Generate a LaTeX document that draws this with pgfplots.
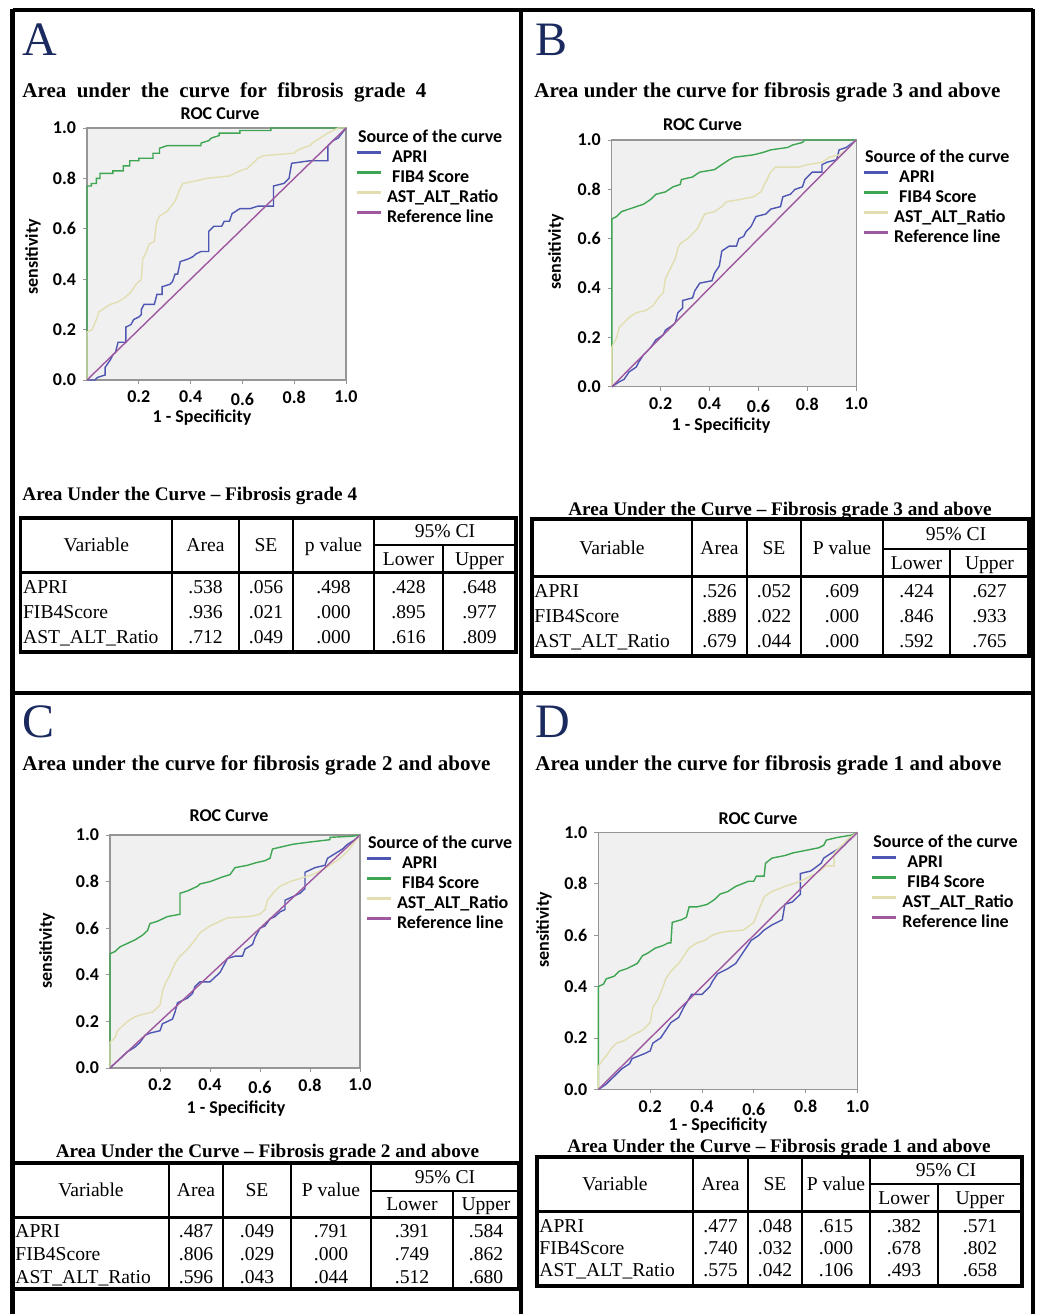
\documentclass[border=0pt]{standalone}
\usepackage{fontspec}
\setmainfont{Liberation Serif}
\newfontfamily\plotfont{Carlito}
\usepackage{pgfplots}
\pgfplotsset{compat=1.18}
\definecolor{apri}{RGB}{78,86,180}
\definecolor{fib}{RGB}{62,166,82}
\definecolor{ast}{RGB}{226,222,176}
\definecolor{refl}{RGB}{158,88,160}
\definecolor{plotbg}{RGB}{240,240,240}
\definecolor{axgray}{RGB}{150,150,150}
\definecolor{navy}{RGB}{27,42,94}
\newcommand\plotB{\plotfont\bfseries\fontsize{9}{10.5}\selectfont}
\newcommand\tabF{\fontsize{9.8}{11}\selectfont}
\newcommand\titF{\bfseries\fontsize{10.5}{12}\selectfont}
\newcommand\ttitF{\bfseries\fontsize{9.6}{11}\selectfont}
\pgfplotsset{rocax/.style={
 scale only axis, anchor=south west, xmin=0,xmax=1,ymin=0,ymax=1,
 axis background/.style={fill=plotbg},
 axis line style={draw=axgray,line width=0.6pt},
 xtick={0.2,0.4,0.6,0.8,1.0}, xticklabels={0.2,0.4,\raisebox{-1.2pt}[\height][0pt]{0.6},0.8,1.0},
 ytick={0,0.2,0.4,0.6,0.8,1}, yticklabels={0.0,0.2,0.4,0.6,0.8,1.0},
 tick align=outside, tick pos=left, major tick length=2pt,
 tick style={draw=axgray,line width=0.5pt},
 tick label style={font=\plotB},
 clip=false,
 every axis plot/.append style={line width=0.7pt},
 legend cell align=left,
 legend style={draw=none, fill=none, inner sep=0pt, outer sep=0pt, font=\plotB,
   nodes={inner sep=0pt, text height=6.5pt, text depth=2pt},
   row sep=1.5pt,
   /tikz/every odd column/.append style={column sep=2.5pt}},
 legend image code/.code={\draw[##1,line width=1.5pt] (0pt,2.5pt) -- (12pt,2.5pt);},
}}
% table macro: uses \tL \tR \tT \tB \tH \tS \cA \cB \cC \cD \cE \rA \rd
\newcommand\AUCtable[2]{%
 \draw[line width=1.6pt] (\tL,\tT) rectangle (\tR,\tB);
 \draw[line width=1.8pt] (\tL,\tH) -- (\tR,\tH);
 \draw[line width=1.4pt] (\cA,\tT) -- (\cA,\tB);
 \draw[line width=0.6pt] (\cB,\tT) -- (\cB,\tB) (\cC,\tT) -- (\cC,\tB) (\cD,\tT) -- (\cD,\tB) (\cE,\tS) -- (\cE,\tB) (\cD,\tS) -- (\tR,\tS);
 \pgfmathsetmacro\hy{(\tT+\tH)/2+6.3}
 \pgfmathsetmacro\hya{(\tT+\tS)/2+6.3}
 \pgfmathsetmacro\hyb{(\tS+\tH)/2+6.3}
 \node[anchor=base,font=\tabF] at ({(\tL+\cA)/2},\hy) {Variable};
 \node[anchor=base,font=\tabF] at ({(\cA+\cB)/2},\hy) {Area};
 \node[anchor=base,font=\tabF] at ({(\cB+\cC)/2},\hy) {SE};
 \node[anchor=base,font=\tabF] at ({(\cC+\cD)/2},\hy) {#1};
 \node[anchor=base,font=\tabF] at ({(\cD+\tR)/2},\hya) {95\% CI};
 \node[anchor=base,font=\tabF] at ({(\cD+\cE)/2},\hyb) {Lower};
 \node[anchor=base,font=\tabF] at ({(\cE+\tR)/2},\hyb) {Upper};
 \foreach \n/\a/\s/\p/\l/\u [count=\i from 0] in {#2} {
   \pgfmathsetmacro\yy{\rA+\i*\rd}
   \node[anchor=base west,inner sep=0pt,font=\tabF] at (\tL+2,\yy) {\n};
   \node[anchor=base,font=\tabF] at ({(\cA+\cB)/2},\yy) {\a};
   \node[anchor=base,font=\tabF] at ({(\cB+\cC)/2},\yy) {\s};
   \node[anchor=base,font=\tabF] at ({(\cC+\cD)/2},\yy) {\p};
   \node[anchor=base,font=\tabF] at ({(\cD+\cE)/2},\yy) {\l};
   \node[anchor=base,font=\tabF] at ({(\cE+\tR)/2},\yy) {\u};
 }}
\begin{document}
\begin{tikzpicture}
\path[use as bounding box] (0,0) rectangle (520pt,-657pt);
% ================= A =================
\begin{axis}[rocax, at={(43.5pt,-190pt)}, width=129.5pt, height=126pt,
  legend style={at={(rel axis cs:1,1)}, anchor=north west, xshift=4.5pt, yshift=-0.5pt}]
\addlegendimage{empty legend}\addlegendentry{\hspace{-14.5pt}Source of the curve}
\addplot[apri] coordinates {(0,0) (0.03,0) (0.04,0.01) (0.07,0.02) (0.07,0.05) (0.09,0.08) (0.10,0.10) (0.11,0.11) (0.12,0.15) (0.15,0.15) (0.15,0.21) (0.17,0.22) (0.18,0.24) (0.20,0.25) (0.21,0.26) (0.21,0.28) (0.22,0.30) (0.26,0.30) (0.27,0.34) (0.29,0.34) (0.29,0.37) (0.32,0.38) (0.33,0.39) (0.34,0.42) (0.35,0.42) (0.36,0.47) (0.39,0.48) (0.41,0.49) (0.42,0.50) (0.44,0.51) (0.47,0.51) (0.47,0.59) (0.49,0.61) (0.52,0.61) (0.53,0.63) (0.55,0.63) (0.56,0.66) (0.59,0.68) (0.63,0.68) (0.66,0.69) (0.72,0.69) (0.72,0.77) (0.76,0.78) (0.78,0.80) (0.79,0.86) (0.86,0.87) (0.93,0.87) (0.93,0.93) (0.95,0.95) (0.97,0.96) (1,1)};
\addlegendentry{\hspace{2.5pt}APRI}
\addplot[fib] coordinates {(0,0) (0,0.77) (0.017,0.77) (0.017,0.78) (0.036,0.78) (0.036,0.80) (0.05,0.80) (0.05,0.82) (0.10,0.82) (0.10,0.83) (0.14,0.83) (0.14,0.85) (0.165,0.85) (0.165,0.87) (0.20,0.87) (0.20,0.88) (0.255,0.88) (0.255,0.90) (0.28,0.90) (0.28,0.92) (0.31,0.93) (0.44,0.93) (0.44,0.94) (0.47,0.95) (0.48,0.96) (0.51,0.97) (0.51,0.98) (0.59,0.98) (0.59,0.99) (0.71,0.99) (0.71,1.0) (1,1)};
\addlegendentry{\hspace{2.5pt}FIB4 Score}
\addplot[ast] coordinates {(0,0) (0,0.19) (0.02,0.20) (0.04,0.25) (0.045,0.27) (0.06,0.28) (0.09,0.30) (0.12,0.31) (0.15,0.33) (0.17,0.35) (0.19,0.38) (0.21,0.40) (0.215,0.48) (0.23,0.51) (0.24,0.54) (0.26,0.55) (0.265,0.60) (0.27,0.63) (0.28,0.65) (0.31,0.67) (0.34,0.71) (0.36,0.76) (0.37,0.78) (0.42,0.79) (0.46,0.80) (0.55,0.81) (0.59,0.83) (0.62,0.84) (0.64,0.86) (0.66,0.88) (0.68,0.89) (0.80,0.90) (0.81,0.91) (0.83,0.92) (0.86,0.93) (0.87,0.94) (0.90,0.96) (0.93,0.98) (0.95,0.99) (0.97,1.0) (1,1)};
\addlegendentry{AST\_ALT\_Ratio}
\addplot[refl] coordinates {(0,0) (1,1)};
\addlegendentry{Reference line}
\end{axis}
% ================= B =================
\begin{axis}[rocax, at={(305.9pt,-193.4pt)}, width=122.2pt, height=123.4pt,
  legend style={at={(rel axis cs:1,1)}, anchor=north west, xshift=3pt, yshift=-4.5pt}]
\addlegendimage{empty legend}\addlegendentry{\hspace{-14.5pt}Source of the curve}
\addplot[apri] coordinates {(0,0) (0.03,0.02) (0.05,0.03) (0.07,0.06) (0.10,0.08) (0.11,0.10) (0.13,0.13) (0.16,0.16) (0.18,0.19) (0.21,0.21) (0.22,0.23) (0.25,0.25) (0.26,0.26) (0.27,0.30) (0.29,0.32) (0.29,0.35) (0.33,0.36) (0.34,0.39) (0.36,0.42) (0.41,0.43) (0.42,0.46) (0.44,0.49) (0.45,0.55) (0.48,0.57) (0.51,0.57) (0.52,0.60) (0.54,0.61) (0.55,0.63) (0.57,0.65) (0.59,0.69) (0.63,0.70) (0.65,0.72) (0.69,0.73) (0.70,0.77) (0.73,0.78) (0.75,0.80) (0.78,0.81) (0.79,0.84) (0.82,0.87) (0.86,0.87) (0.86,0.90) (0.88,0.91) (0.92,0.92) (0.93,0.96) (0.96,0.97) (1,1)};
\addlegendentry{\hspace{2.5pt}APRI}
\addplot[fib] coordinates {(0,0) (0,0.68) (0.02,0.69) (0.04,0.71) (0.07,0.72) (0.10,0.73) (0.13,0.74) (0.16,0.76) (0.18,0.78) (0.22,0.79) (0.25,0.81) (0.28,0.82) (0.285,0.84) (0.33,0.85) (0.36,0.87) (0.42,0.88) (0.45,0.90) (0.48,0.92) (0.50,0.93) (0.58,0.94) (0.62,0.95) (0.65,0.96) (0.72,0.97) (0.74,0.98) (0.78,0.99) (0.79,1.0) (1,1)};
\addlegendentry{\hspace{2.5pt}FIB4 Score}
\addplot[ast] coordinates {(0,0) (0,0.16) (0.02,0.20) (0.03,0.24) (0.05,0.26) (0.07,0.28) (0.10,0.30) (0.14,0.31) (0.17,0.33) (0.19,0.36) (0.21,0.38) (0.22,0.44) (0.24,0.48) (0.26,0.52) (0.27,0.56) (0.28,0.58) (0.31,0.60) (0.35,0.64) (0.37,0.68) (0.38,0.70) (0.42,0.71) (0.45,0.73) (0.47,0.75) (0.53,0.76) (0.58,0.77) (0.61,0.79) (0.63,0.83) (0.65,0.87) (0.67,0.89) (0.76,0.89) (0.80,0.90) (0.86,0.91) (0.89,0.93) (0.93,0.94) (0.96,0.96) (0.98,0.98) (1,1)};
\addlegendentry{AST\_ALT\_Ratio}
\addplot[refl] coordinates {(0,0) (1,1)};
\addlegendentry{Reference line}
\end{axis}
% ================= C =================
\begin{axis}[rocax, at={(55pt,-534pt)}, width=125pt, height=116.5pt,
  legend style={at={(rel axis cs:1,1)}, anchor=north west, xshift=2.5pt, yshift=0pt}]
\addlegendimage{empty legend}\addlegendentry{\hspace{-14.5pt}Source of the curve}
\addplot[apri] coordinates {(0,0) (0.03,0.03) (0.05,0.05) (0.07,0.07) (0.10,0.09) (0.12,0.11) (0.14,0.14) (0.16,0.15) (0.20,0.16) (0.21,0.19) (0.23,0.20) (0.25,0.21) (0.26,0.24) (0.27,0.28) (0.29,0.29) (0.31,0.30) (0.33,0.32) (0.34,0.35) (0.36,0.37) (0.40,0.37) (0.42,0.39) (0.44,0.41) (0.45,0.43) (0.47,0.47) (0.50,0.48) (0.53,0.48) (0.54,0.51) (0.57,0.53) (0.58,0.56) (0.60,0.60) (0.62,0.61) (0.64,0.64) (0.66,0.65) (0.68,0.67) (0.70,0.68) (0.70,0.72) (0.74,0.74) (0.76,0.75) (0.78,0.77) (0.78,0.84) (0.82,0.86) (0.86,0.87) (0.87,0.90) (0.90,0.92) (0.93,0.94) (0.95,0.96) (0.98,0.98) (1,1)};
\addlegendentry{\hspace{2.5pt}APRI}
\addplot[fib] coordinates {(0,0) (0,0.49) (0.02,0.50) (0.04,0.52) (0.06,0.53) (0.08,0.54) (0.10,0.55) (0.13,0.57) (0.15,0.59) (0.16,0.62) (0.19,0.63) (0.21,0.64) (0.23,0.65) (0.28,0.66) (0.28,0.75) (0.31,0.76) (0.35,0.78) (0.36,0.79) (0.40,0.80) (0.45,0.82) (0.48,0.83) (0.50,0.86) (0.55,0.87) (0.58,0.88) (0.62,0.89) (0.64,0.90) (0.65,0.94) (0.69,0.95) (0.73,0.96) (0.80,0.97) (0.88,0.98) (0.88,0.99) (0.97,0.995) (1,1)};
\addlegendentry{\hspace{2.5pt}FIB4 Score}
\addplot[ast] coordinates {(0,0) (0,0.11) (0.02,0.13) (0.03,0.16) (0.05,0.18) (0.07,0.20) (0.10,0.22) (0.13,0.23) (0.17,0.24) (0.20,0.27) (0.21,0.33) (0.22,0.36) (0.24,0.40) (0.26,0.45) (0.28,0.48) (0.31,0.51) (0.34,0.55) (0.36,0.58) (0.40,0.61) (0.44,0.63) (0.47,0.645) (0.56,0.65) (0.60,0.66) (0.62,0.68) (0.63,0.72) (0.66,0.76) (0.68,0.78) (0.72,0.80) (0.78,0.82) (0.81,0.83) (0.85,0.85) (0.88,0.87) (0.92,0.90) (0.95,0.93) (1,1)};
\addlegendentry{AST\_ALT\_Ratio}
\addplot[refl] coordinates {(0,0) (1,1)};
\addlegendentry{Reference line}
\end{axis}
% ================= D =================
\begin{axis}[rocax, at={(299.2pt,-544.7pt)}, width=129.5pt, height=128.5pt,
  legend style={at={(rel axis cs:1,1)}, anchor=north west, xshift=6.5pt, yshift=-1pt}]
\addlegendimage{empty legend}\addlegendentry{\hspace{-14.5pt}Source of the curve}
\addplot[apri] coordinates {(0,0) (0.03,0.02) (0.05,0.04) (0.07,0.06) (0.09,0.08) (0.12,0.10) (0.13,0.12) (0.18,0.14) (0.20,0.15) (0.21,0.18) (0.24,0.20) (0.26,0.23) (0.28,0.26) (0.31,0.28) (0.33,0.32) (0.36,0.37) (0.40,0.37) (0.43,0.40) (0.44,0.42) (0.46,0.45) (0.50,0.47) (0.53,0.49) (0.55,0.52) (0.57,0.55) (0.59,0.58) (0.62,0.60) (0.64,0.62) (0.67,0.64) (0.71,0.66) (0.72,0.72) (0.75,0.73) (0.78,0.76) (0.78,0.84) (0.82,0.85) (0.86,0.88) (0.87,0.90) (0.90,0.92) (0.95,0.95) (0.98,0.99) (1,1)};
\addlegendentry{\hspace{2.5pt}APRI}
\addplot[fib] coordinates {(0,0) (0,0.40) (0.02,0.41) (0.03,0.43) (0.06,0.44) (0.08,0.46) (0.11,0.47) (0.13,0.48) (0.15,0.49) (0.17,0.52) (0.19,0.53) (0.22,0.55) (0.25,0.56) (0.27,0.57) (0.28,0.57) (0.285,0.65) (0.32,0.66) (0.34,0.67) (0.35,0.71) (0.38,0.71) (0.42,0.72) (0.45,0.74) (0.47,0.76) (0.50,0.77) (0.53,0.79) (0.58,0.81) (0.60,0.81) (0.61,0.83) (0.64,0.83) (0.645,0.88) (0.67,0.90) (0.72,0.91) (0.75,0.92) (0.80,0.93) (0.85,0.94) (0.87,0.95) (0.88,0.97) (0.92,0.98) (0.95,0.985) (0.98,0.99) (1,1)};
\addlegendentry{\hspace{2.5pt}FIB4 Score}
\addplot[ast] coordinates {(0,0) (0,0.09) (0.02,0.12) (0.03,0.13) (0.05,0.16) (0.07,0.18) (0.10,0.19) (0.13,0.21) (0.17,0.23) (0.20,0.26) (0.21,0.32) (0.23,0.35) (0.25,0.40) (0.26,0.43) (0.28,0.46) (0.31,0.49) (0.33,0.52) (0.35,0.55) (0.38,0.57) (0.41,0.58) (0.44,0.60) (0.47,0.61) (0.50,0.615) (0.56,0.62) (0.60,0.65) (0.62,0.70) (0.64,0.75) (0.67,0.77) (0.72,0.79) (0.78,0.81) (0.84,0.84) (0.88,0.87) (0.91,0.87) (0.91,0.92) (0.94,0.95) (0.97,0.98) (1,1)};
\addlegendentry{AST\_ALT\_Ratio}
\addplot[refl] coordinates {(0,0) (1,1)};
\addlegendentry{Reference line}
\end{axis}
% ================= frame, texts, tables (pixel units) =================
\begin{scope}[x=0.5pt,y=-0.5pt]
\draw[line width=2.2pt] (12.5,10) -- (1033,10);
\draw[line width=2.2pt] (12.5,9) -- (12.5,1314);
\draw[line width=2.2pt] (1033,9) -- (1033,1314);
\draw[line width=2.4pt] (521,10) -- (521,1314);
\draw[line width=2.2pt] (12.5,693) -- (1033,693);
% panel letters
\node[anchor=base west,inner sep=0pt,text=navy,font=\fontsize{24}{24}\selectfont] at (22,55) {A};
\node[anchor=base west,inner sep=0pt,text=navy,font=\fontsize{24}{24}\selectfont] at (535,55) {B};
\node[anchor=base west,inner sep=0pt,text=navy,font=\fontsize{24}{24}\selectfont] at (22,737) {C};
\node[anchor=base west,inner sep=0pt,text=navy,font=\fontsize{24}{24}\selectfont] at (535,737) {D};
% panel titles
\node[anchor=base west,inner sep=0pt,font=\titF] at (22,97) {\makebox[202pt][s]{Area under the curve for fibrosis grade 4}};
\node[anchor=base west,inner sep=0pt,font=\titF] at (534,97) {\makebox[233pt][s]{Area under the curve for fibrosis grade 3 and above}};
\node[anchor=base west,inner sep=0pt,font=\titF] at (22,770) {\makebox[234pt][s]{Area under the curve for fibrosis grade 2 and above}};
\node[anchor=base west,inner sep=0pt,font=\titF] at (535,770) {\makebox[233pt][s]{Area under the curve for fibrosis grade 1 and above}};
% ROC plot texts
\node[anchor=base,inner sep=0pt,font=\plotB] at (220,119) {ROC Curve};
\node[anchor=base,inner sep=0pt,font=\plotB] at (702.5,130) {ROC Curve};
\node[anchor=base,inner sep=0pt,font=\plotB] at (229,821) {ROC Curve};
\node[anchor=base,inner sep=0pt,font=\plotB] at (758,824) {ROC Curve};
\node[anchor=base,inner sep=0pt,font=\plotB] at (202,422) {1 - Specificity};
\node[anchor=base,inner sep=0pt,font=\plotB] at (721,430) {1 - Specificity};
\node[anchor=base,inner sep=0pt,font=\plotB] at (236,1113) {1 - Specificity};
\node[anchor=base,inner sep=0pt,font=\plotB] at (718,1130) {1 - Specificity};
\node[rotate=90,inner sep=0pt,font=\plotB] at (33,257) {sensitivity};
\node[rotate=90,inner sep=0pt,font=\plotB] at (556,252) {sensitivity};
\node[rotate=90,inner sep=0pt,font=\plotB] at (47,951) {sensitivity};
\node[rotate=90,inner sep=0pt,font=\plotB] at (544,930) {sensitivity};
% table titles
\node[anchor=base west,inner sep=0pt,font=\ttitF] at (22,500) {Area Under the Curve -- Fibrosis grade 4};
\node[anchor=base,inner sep=0pt,font=\ttitF] at (780,515) {Area Under the Curve -- Fibrosis grade 3 and above};
\node[anchor=base,inner sep=0pt,font=\ttitF] at (267.5,1157) {Area Under the Curve -- Fibrosis grade 2 and above};
\node[anchor=base,inner sep=0pt,font=\ttitF] at (779,1152) {Area Under the Curve -- Fibrosis grade 1 and above};
% table A
\def\tL{20.7}\def\tR{516}\def\tT{518}\def\tB{652}\def\tH{572.5}\def\tS{545}
\def\cA{172}\def\cB{239}\def\cC{293}\def\cD{374}\def\cE{443}\def\rA{593}\def\rd{25}
\AUCtable{p value}{APRI/.538/.056/.498/.428/.648, FIB4Score/.936/.021/.000/.895/.977, AST\_ALT\_Ratio/.712/.049/.000/.616/.809}
% table B
\def\tL{532}\def\tR{1029}\def\tT{519}\def\tB{656}\def\tH{576.5}\def\tS{549}
\def\cA{692}\def\cB{747}\def\cC{801}\def\cD{883}\def\cE{950}\def\rA{597}\def\rd{25}
\AUCtable{P value}{APRI/.526/.052/.609/.424/.627, FIB4Score/.889/.022/.000/.846/.933, AST\_ALT\_Ratio/.679/.044/.000/.592/.765}
% table C
\def\tL{13}\def\tR{519}\def\tT{1163}\def\tB{1289}\def\tH{1217.5}\def\tS{1191}
\def\cA{169}\def\cB{223}\def\cC{291}\def\cD{371}\def\cE{453}\def\rA{1237}\def\rd{23}
\AUCtable{P value}{APRI/.487/.049/.791/.391/.584, FIB4Score/.806/.029/.000/.749/.862, AST\_ALT\_Ratio/.596/.043/.044/.512/.680}
% table D
\def\tL{537}\def\tR{1022}\def\tT{1157}\def\tB{1286}\def\tH{1211.5}\def\tS{1184}
\def\cA{693}\def\cB{748}\def\cC{802}\def\cD{870}\def\cE{938}\def\rA{1232}\def\rd{22}
\AUCtable{P value}{APRI/.477/.048/.615/.382/.571, FIB4Score/.740/.032/.000/.678/.802, AST\_ALT\_Ratio/.575/.042/.106/.493/.658}
\end{scope}
\end{tikzpicture}
\end{document}
